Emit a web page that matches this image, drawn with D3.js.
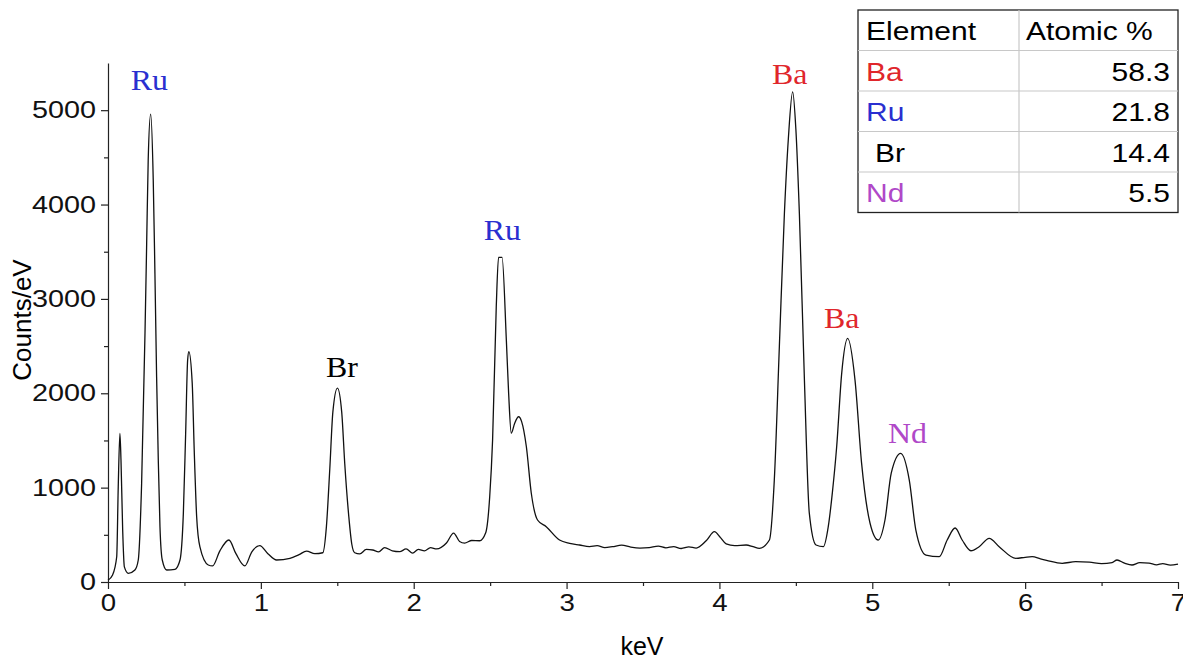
<!DOCTYPE html>
<html>
<head>
<meta charset="utf-8">
<script src="https://cdnjs.cloudflare.com/ajax/libs/d3/7.8.5/d3.min.js"></script>
<style>
  body { margin: 0; background: #fff; }
  svg { display: block; }
  .axis text { font-family: Arial, "Liberation Sans", sans-serif; font-size: 24px; fill: #111; }
  .axis path, .axis line { stroke: #222; stroke-width: 1.2; }
</style>
</head>
<body>
<script>
var width = 1183;
var height = 660;

// spectrum
var energy = [0, 0.03, 0.057, 0.067, 0.078, 0.085, 0.096, 0.107, 0.133, 0.176, 0.198, 0.22, 0.242, 0.253, 0.263, 0.279,
  0.296, 0.307, 0.318, 0.329, 0.34, 0.355, 0.384, 0.438, 0.471, 0.493, 0.508, 0.521, 0.529, 0.551, 0.564, 0.58, 0.601,
  0.656, 0.684, 0.732, 0.791, 0.837, 0.895, 0.941, 0.993, 1.046, 1.103, 1.19, 1.25, 1.299, 1.353, 1.405, 1.429, 1.451,
  1.471, 1.501, 1.529, 1.549, 1.575, 1.595, 1.614, 1.647, 1.69, 1.732, 1.77, 1.81, 1.86, 1.908, 1.95, 1.993, 2.03, 2.07,
  2.11, 2.15, 2.214, 2.261, 2.30, 2.333, 2.38, 2.431, 2.471, 2.497, 2.516, 2.54, 2.555, 2.578, 2.606, 2.621, 2.638, 2.66,
  2.686, 2.706, 2.737, 2.769, 2.81, 2.867, 2.954, 3.02, 3.085, 3.15, 3.2, 3.25, 3.3, 3.36, 3.42, 3.48, 3.54, 3.6, 3.65,
  3.7, 3.75, 3.8, 3.848, 3.915, 3.967,
  4.007, 4.044, 4.1, 4.175, 4.22, 4.261, 4.327, 4.359, 4.392, 4.425, 4.451, 4.479, 4.5, 4.523, 4.556, 4.588, 4.632, 4.68,
  4.712, 4.739, 4.767, 4.8, 4.839, 4.887, 4.93, 4.985, 5.039, 5.083, 5.124, 5.186, 5.242, 5.285, 5.351, 5.438, 5.49,
  5.542, 5.588, 5.645, 5.699, 5.765, 5.83, 5.939, 6.0, 6.046, 6.1, 6.14, 6.242, 6.33, 6.42, 6.5, 6.569, 6.601, 6.65, 6.699,
  6.75, 6.81, 6.86, 6.9, 6.95, 7.0];
var counts = [20, 75, 268, 1010, 1575, 1290, 550, 160, 92, 127, 233, 1046, 2635, 3590, 4470, 4958,
  4258, 3270, 2175, 1292, 586, 233, 127, 134, 233, 730, 1575, 2352, 2440, 2105, 1400, 692, 374,
  180, 170, 330, 445, 300, 170, 320, 385, 300, 233, 250, 290, 328, 300, 310, 590, 1200,
  1800, 2055, 1800, 1250, 700, 400, 310, 297, 345, 339, 320, 365, 330, 321, 350, 307, 345, 330,
  365, 350, 413, 519, 430, 413, 440, 437, 522, 900, 1504, 2916, 3440, 3440, 2563, 2000, 1578, 1680,
  1751, 1700, 1433, 943, 657, 586, 445, 410, 392, 375, 385, 365, 374, 390, 370, 360, 365, 380, 362,
  375, 355, 372, 360, 440, 533,
  470, 403, 385, 392, 375, 357, 445, 1080, 2493, 3905, 4700, 5194, 4800, 3905, 2140, 730, 392, 374,
  586, 950, 1433, 2214, 2581, 2140, 1260, 625, 445, 657, 1154, 1363, 1080, 551, 286, 268, 445,
  572, 445, 331, 374, 463, 374, 251, 262, 268, 245, 230, 198, 215, 210, 195, 205, 233, 200, 180,
  205, 200, 182, 195, 178, 190];

// peak labels
var peakNames = ['Ru', 'Br', 'Ru', 'Ba', 'Ba', 'Nd'];
var peakKeV = [0.27, 1.53, 2.58, 4.46, 4.80, 5.23];
var peakTop = [5210, 2175, 3625, 5280, 2695, 1475];

// composition table
var elements = ['Ba', 'Ru', 'Br', 'Nd'];
var atomic = ['58.3', '21.8', '14.4', '5.5'];

var colorOf = { Ba: '#e0262b', Ru: '#2a2fd0', Br: '#000000', Nd: '#b048c8' };

var margin = { top: 63, right: 5, bottom: 78, left: 108 };

var svg = d3.select('body').append('svg').attr('width', width).attr('height', height);

// the picture's lettering is a bit wider than the fonts here
var stretch = function(sel, k) {
  sel.each(function() {
    var w = this.getComputedTextLength();
    if (w > 0) d3.select(this).attr('textLength', w * k).attr('lengthAdjust', 'spacingAndGlyphs');
  });
};

var x = d3.scaleLinear().domain([0, 7]).range([margin.left, width - margin.right]);
var y = d3.scaleLinear().domain([0, 5500]).range([height - margin.bottom, margin.top]);

// minor ticks first, then labelled axes on top
svg.append('g').attr('class', 'axis')
  .attr('transform', 'translate(0,' + y(0) + ')')
  .call(d3.axisBottom(x).tickValues(d3.range(0.5, 7, 1)).tickSize(4).tickFormat(''))
  .select('.domain').remove();
svg.append('g').attr('class', 'axis')
  .attr('transform', 'translate(' + x(0) + ',0)')
  .call(d3.axisLeft(y).tickValues(d3.range(500, 5500, 1000)).tickSize(4).tickFormat(''))
  .select('.domain').remove();

var xAxis = svg.append('g').attr('class', 'axis')
  .attr('transform', 'translate(0,' + y(0) + ')')
  .call(d3.axisBottom(x).tickValues(d3.range(0, 8, 1)).tickSize(7).tickSizeOuter(0).tickPadding(5).tickFormat(d3.format('d')));
var yAxis = svg.append('g').attr('class', 'axis')
  .attr('transform', 'translate(' + x(0) + ',0)')
  .call(d3.axisLeft(y).tickValues(d3.range(0, 6000, 1000)).tickSize(7).tickSizeOuter(0).tickPadding(5).tickFormat(d3.format('d')));
stretch(xAxis.selectAll('text'), 1.15);
stretch(yAxis.selectAll('text'), 1.2);

// axis titles
svg.append('text')
  .attr('x', 642).attr('y', 655)
  .attr('text-anchor', 'middle')
  .style('font-family', 'Arial, "Liberation Sans", sans-serif')
  .style('font-size', '25px')
  .text('keV');
svg.append('text')
  .attr('transform', 'translate(31,' + 320 + ') rotate(-90)')
  .attr('text-anchor', 'middle')
  .style('font-family', 'Arial, "Liberation Sans", sans-serif')
  .style('font-size', '26px')
  .text('Counts/eV');

// the spectrum
var pts = energy.map(function(e, i) { return [e, counts[i]]; });
var line = d3.line()
  .x(function(d) { return x(d[0]); })
  .y(function(d) { return y(d[1]); })
  .curve(d3.curveMonotoneX);
svg.append('path')
  .datum(pts)
  .attr('d', line)
  .attr('fill', 'none')
  .attr('stroke', '#111')
  .attr('stroke-width', 1.3);

// peak labels
var peaks = svg.selectAll('.peak')
  .data(peakNames)
  .enter()
  .append('text')
  .attr('class', 'peak')
  .attr('x', function(d, i) { return x(peakKeV[i]); })
  .attr('y', function(d, i) { return y(peakTop[i]); })
  .attr('text-anchor', 'middle')
  .style('font-family', '"Liberation Serif", "DejaVu Serif", serif')
  .style('font-size', '29px')
  .attr('fill', function(d) { return colorOf[d]; })
  .text(function(d) { return d; });
stretch(peaks, 1.1);

// table, top right
var tx = 858, ty = 10, tw = 320, rowH = 40.5, colX = 1019;
var table = svg.append('g');
table.append('rect')
  .attr('x', tx).attr('y', ty).attr('width', tw).attr('height', rowH * 5)
  .attr('fill', '#fff').attr('stroke', '#222').attr('stroke-width', 1.3);
table.selectAll('.hline')
  .data(d3.range(1, 5))
  .enter()
  .append('line')
  .attr('x1', tx).attr('x2', tx + tw)
  .attr('y1', function(d) { return ty + d * rowH; })
  .attr('y2', function(d) { return ty + d * rowH; })
  .attr('stroke', '#c8c8c8').attr('stroke-width', 1.2);
table.append('line')
  .attr('x1', colX).attr('x2', colX).attr('y1', ty).attr('y2', ty + rowH * 5)
  .attr('stroke', '#c8c8c8').attr('stroke-width', 1.2);

var tfont = 'Arial, "Liberation Sans", sans-serif';
var head = table.selectAll('.head')
  .data(['Element', 'Atomic %'])
  .enter()
  .append('text')
  .attr('x', function(d, i) { return i === 0 ? tx + 8 : colX + 7; })
  .attr('y', ty + 30)
  .style('font-family', tfont).style('font-size', '25px')
  .text(function(d) { return d; });

var els = table.selectAll('.el')
  .data(elements)
  .enter()
  .append('text')
  .attr('x', function(d) { return d === 'Br' ? tx + 17 : tx + 8; })
  .attr('y', function(d, i) { return ty + (i + 1) * rowH + 30; })
  .style('font-family', tfont).style('font-size', '25px')
  .attr('fill', function(d) { return colorOf[d]; })
  .text(function(d) { return d; });

var pcts = table.selectAll('.pct')
  .data(atomic)
  .enter()
  .append('text')
  .attr('x', tx + tw - 8)
  .attr('y', function(d, i) { return ty + (i + 1) * rowH + 30; })
  .attr('text-anchor', 'end')
  .style('font-family', tfont).style('font-size', '25px')
  .text(function(d) { return d; });

stretch(head, 1.2);
stretch(els, 1.2);
stretch(pcts, 1.2);
</script>
</body>
</html>
